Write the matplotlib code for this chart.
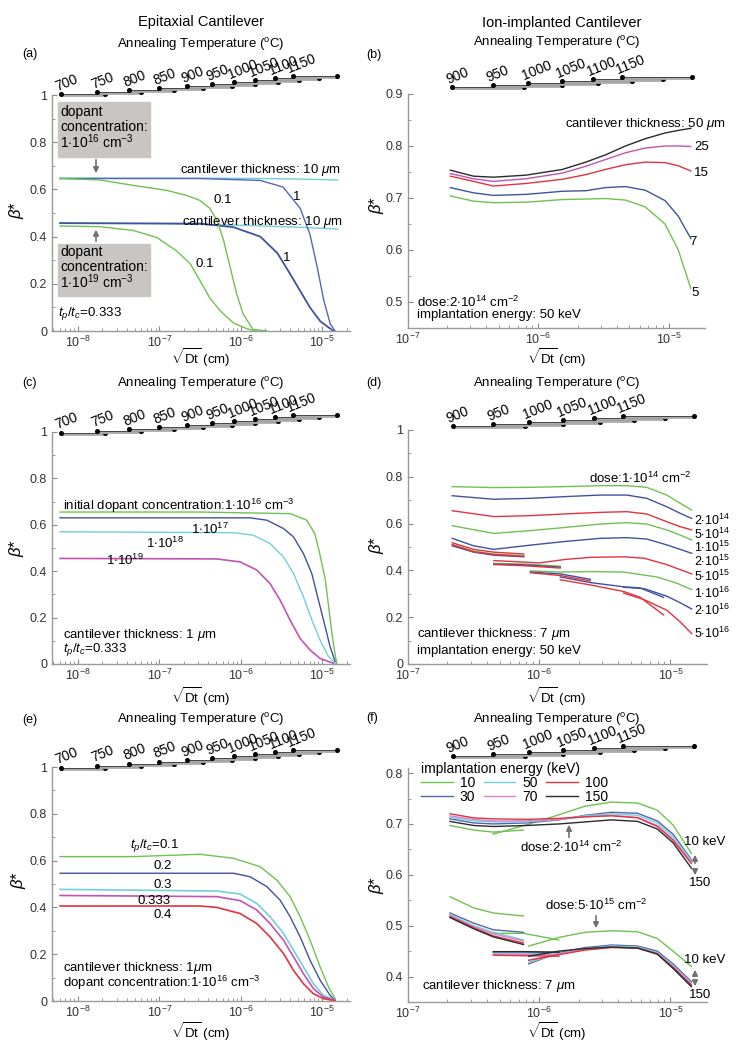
import numpy as np
import matplotlib
matplotlib.use('Agg')
import matplotlib.pyplot as plt
from matplotlib.ticker import LogLocator, MultipleLocator, FuncFormatter, NullFormatter
from matplotlib.transforms import blended_transform_factory
from matplotlib.patches import Rectangle, FancyArrowPatch

plt.rcParams['font.family'] = ['Liberation Sans', 'DejaVu Sans']
plt.rcParams['mathtext.fontset'] = 'custom'
plt.rcParams['mathtext.rm'] = 'Liberation Sans'
plt.rcParams['mathtext.it'] = 'Liberation Sans:italic'
plt.rcParams['mathtext.bf'] = 'Liberation Sans:bold'

W, H = 744, 1050

# annealing temperatures and the sqrt(Dt) range (log10 cm) each one covers
TEMPS = [700, 750, 800, 850, 900, 950, 1000, 1050, 1100, 1150]
TEMP_LOG_START = [-8.21, -7.77, -7.37, -7.00, -6.66, -6.35, -6.08, -5.82, -5.58, -5.36]
TEMP_LOG_END = [-7.67, -7.23, -6.82, -6.46, -6.11, -5.82, -5.54, -5.28, -5.04, -4.82]

# ---- (a) epitaxial, t_p/t_c = 0.333
A_FLAT_X = [-8.22, -7.0, -6.0, -5.3, -4.81]
A_16_T10 = [0.648, 0.648, 0.647, 0.644, 0.640]
A_19_T10 = [0.458, 0.455, 0.448, 0.440, 0.432]
A_16_T1_X = [-8.22, -6.5, -5.76, -5.48, -5.27, -5.15, -5.06, -4.98, -4.90, -4.84]
A_16_T1 = [0.646, 0.646, 0.638, 0.61, 0.52, 0.41, 0.27, 0.13, 0.03, 0.0]
A_16_T01_X = [-8.22, -7.73, -7.32, -6.91, -6.66, -6.50, -6.38, -6.29, -6.21, -6.13, -6.05, -5.97, -5.85, -5.68]
A_16_T01 = [0.646, 0.640, 0.617, 0.596, 0.574, 0.553, 0.52, 0.468, 0.383, 0.27, 0.157, 0.072, 0.007, 0.0]
A_19_T1_X = [-8.22, -6.5, -6.09, -5.76, -5.55, -5.39, -5.27, -5.15, -5.02, -4.86]
A_19_T1 = [0.457, 0.455, 0.44, 0.40, 0.33, 0.24, 0.17, 0.10, 0.04, 0.0]
A_19_T01_X = [-8.22, -7.73, -7.32, -7.03, -6.79, -6.62, -6.50, -6.38, -6.25, -6.09, -5.92, -5.80]
A_19_T01 = [0.445, 0.442, 0.426, 0.396, 0.34, 0.285, 0.213, 0.14, 0.085, 0.034, 0.009, 0.0]

# ---- (b) ion-implanted, dose 2e14, 50 keV, thickness 5..50 um
B_X = [-6.675, -6.498, -6.346, -6.093, -5.814, -5.636, -5.484, -5.332, -5.18, -5.028, -4.926, -4.83]
B_T50 = [0.7535, 0.742, 0.740, 0.744, 0.755, 0.769, 0.783, 0.800, 0.814, 0.825, 0.830, 0.834]
B_T25 = [0.747, 0.737, 0.732, 0.737, 0.748, 0.761, 0.774, 0.787, 0.796, 0.800, 0.800, 0.799]
B_T15 = [0.742, 0.732, 0.723, 0.728, 0.736, 0.745, 0.755, 0.764, 0.769, 0.768, 0.762, 0.752]
B_T7 = [0.720, 0.710, 0.705, 0.707, 0.713, 0.714, 0.720, 0.722, 0.715, 0.695, 0.665, 0.622]
B_T5 = [0.704, 0.694, 0.691, 0.692, 0.697, 0.698, 0.699, 0.696, 0.683, 0.650, 0.600, 0.526]

# ---- (c) epitaxial, thickness 1 um, initial dopant concentration
C_16_X = [-8.22, -6.5, -5.39, -5.19, -5.09, -5.03, -4.96, -4.92, -4.88, -4.84, -4.82]
C_16 = [0.655, 0.655, 0.648, 0.62, 0.562, 0.476, 0.362, 0.247, 0.132, 0.039, 0.003]
C_17_X = [-8.22, -5.885, -5.68, -5.475, -5.352, -5.23, -5.127, -5.045, -4.963, -4.902, -4.84]
C_17 = [0.63, 0.63, 0.62, 0.584, 0.548, 0.476, 0.39, 0.275, 0.161, 0.075, 0.01]
C_18_X = [-8.22, -6.09, -5.844, -5.64, -5.475, -5.352, -5.23, -5.127, -5.025, -4.922, -4.84]
C_18 = [0.57, 0.566, 0.555, 0.519, 0.462, 0.39, 0.29, 0.19, 0.103, 0.032, 0.003]
C_19_X = [-8.22, -6.295, -6.008, -5.803, -5.64, -5.516, -5.393, -5.27, -5.148, -5.025, -4.861]
C_19 = [0.455, 0.453, 0.44, 0.405, 0.347, 0.275, 0.189, 0.11, 0.06, 0.024, 0.003]

# ---- (d) ion-implanted, thickness 7 um, 50 keV, dose 1e14..5e16
D_UP_X = [-6.663, -6.346, -6.067, -5.814, -5.535, -5.332, -5.18, -5.028, -4.926, -4.838]
D_1E14 = [0.758, 0.754, 0.755, 0.758, 0.762, 0.762, 0.755, 0.722, 0.687, 0.658]
D_2E14 = [0.719, 0.704, 0.708, 0.715, 0.722, 0.722, 0.708, 0.672, 0.644, 0.622]
D_5E14 = [0.655, 0.630, 0.634, 0.641, 0.648, 0.651, 0.641, 0.608, 0.587, 0.573]
D_1E15 = [0.591, 0.558, 0.570, 0.583, 0.598, 0.604, 0.598, 0.573, 0.551, 0.530]
D_2E15_X = [-6.663, -6.5, -6.346, -6.067, -5.814, -5.535, -5.332, -5.18, -5.028, -4.926, -4.838]
D_2E15 = [0.537, 0.505, 0.490, 0.508, 0.523, 0.537, 0.540, 0.534, 0.509, 0.490, 0.473]
D_SEG1_X = [-6.663, -6.5, -6.346, -6.118]
D_SEG2_X = [-6.346, -6.118, -5.839]
D_SEG3_X = [-6.067, -5.839, -5.611]
D_5E15_A = [0.518, 0.490, 0.478, 0.470]
D_5E15_B_X = [-6.346, -6.0, -5.8, -5.6, -5.35, -5.2, -5.03, -4.838]
D_5E15_B = [0.442, 0.432, 0.447, 0.456, 0.458, 0.452, 0.425, 0.385]
D_1E16_A = [0.510, 0.483, 0.470, 0.463]
D_1E16_B = [0.430, 0.427, 0.418]
D_1E16_C_X = [-6.067, -5.839, -5.611, -5.357, -5.104, -4.95, -4.838]
D_1E16_C = [0.398, 0.393, 0.395, 0.393, 0.372, 0.345, 0.318]
D_2E16_A = [0.505, 0.478, 0.465, 0.458]
D_2E16_B = [0.427, 0.424, 0.414]
D_2E16_C = [0.393, 0.385, 0.362]
D_SEG4_X = [-5.839, -5.611, -5.357, -5.231, -5.053]
D_SEG5_X = [-5.357, -5.2, -5.028, -4.926, -4.838]
D_2E16_D = [0.372, 0.348, 0.330, 0.325, 0.285]
D_2E16_E = [0.328, 0.322, 0.290, 0.262, 0.235]
D_5E16_A = [0.510, 0.480, 0.468, 0.460]
D_5E16_B = [0.425, 0.420, 0.410]
D_5E16_C = [0.390, 0.378, 0.355]
D_5E16_D = [0.360, 0.338, 0.310, 0.285, 0.210]
D_5E16_E = [0.303, 0.275, 0.230, 0.180, 0.130]
D_DOSE_LABELS = ['2$\\cdot$10$^{14}$', '5$\\cdot$10$^{14}$', '1$\\cdot$10$^{15}$',
                 '2$\\cdot$10$^{15}$', '5$\\cdot$10$^{15}$', '1$\\cdot$10$^{16}$',
                 '2$\\cdot$10$^{16}$', '5$\\cdot$10$^{16}$']

# ---- (e) epitaxial, thickness 1 um, 1e16, t_p/t_c
E_01_X = [-8.22, -7.32, -6.5, -6.09, -5.762, -5.557, -5.393, -5.27, -5.148, -5.025, -4.922, -4.84]
E_01 = [0.617, 0.617, 0.627, 0.61, 0.574, 0.517, 0.446, 0.36, 0.26, 0.146, 0.06, 0.01]
E_02_X = [-8.22, -6.09, -5.885, -5.68, -5.516, -5.393, -5.27, -5.148, -5.025, -4.902, -4.84]
E_02 = [0.546, 0.546, 0.531, 0.489, 0.431, 0.36, 0.274, 0.174, 0.089, 0.024, 0.003]
E_03_X = [-8.22, -6.295, -6.008, -5.803, -5.64, -5.475, -5.352, -5.23, -5.107, -4.984, -4.84]
E_03 = [0.477, 0.470, 0.457, 0.417, 0.36, 0.289, 0.217, 0.146, 0.074, 0.024, 0.003]
E_0333 = [0.451, 0.446, 0.429, 0.389, 0.331, 0.26, 0.189, 0.117, 0.053, 0.017, 0.003]
E_04_X = [-8.22, -6.5, -6.295, -6.008, -5.803, -5.64, -5.475, -5.352, -5.23, -5.107, -4.984, -4.84]
E_04 = [0.406, 0.406, 0.400, 0.374, 0.331, 0.274, 0.203, 0.131, 0.074, 0.031, 0.01, 0.001]

# ---- (f) ion-implanted, thickness 7 um, energies 10..150 keV
F_ENERGIES = ['10', '30', '50', '70', '100', '150']
F_X = [-6.68, -6.50, -6.35, -6.10, -5.85, -5.65, -5.45, -5.25, -5.10, -4.98, -4.84]
F_HI_30 = [0.710, 0.702, 0.700, 0.702, 0.708, 0.717, 0.723, 0.721, 0.706, 0.680, 0.630]
F_HI_50 = [0.713, 0.706, 0.704, 0.704, 0.709, 0.716, 0.720, 0.717, 0.702, 0.675, 0.628]
F_HI_70 = [0.716, 0.709, 0.706, 0.706, 0.709, 0.714, 0.717, 0.713, 0.697, 0.670, 0.625]
F_HI_100 = [0.720, 0.712, 0.710, 0.709, 0.711, 0.714, 0.716, 0.712, 0.695, 0.668, 0.622]
F_HI_150 = [0.705, 0.697, 0.695, 0.697, 0.700, 0.704, 0.708, 0.705, 0.690, 0.663, 0.613]
F_HI_10_A_X = [-6.68, -6.50, -6.35, -6.12]
F_HI_10_A = [0.697, 0.688, 0.684, 0.688]
F_HI_10_B_X = [-6.35, -6.10, -5.85, -5.65, -5.45, -5.25, -5.10, -4.98, -4.84]
F_HI_10_B = [0.680, 0.698, 0.718, 0.735, 0.743, 0.741, 0.727, 0.698, 0.642]
F_LO_A_X = [-6.68, -6.50, -6.35, -6.12]
F_LO_B_X = [-6.35, -6.12, -5.85]
F_LO_C_X = [-6.08, -5.85, -5.65, -5.45, -5.25, -5.10, -4.98, -4.84]
F_LO_10 = ([0.557, 0.535, 0.525, 0.519], [0.485, 0.485, 0.472],
           [0.460, 0.477, 0.487, 0.490, 0.488, 0.475, 0.450, 0.420])
F_LO_30 = ([0.525, 0.505, 0.492, 0.487], [0.448, 0.448, 0.447],
           [0.425, 0.447, 0.457, 0.462, 0.460, 0.450, 0.425, 0.390])
F_LO_50 = ([0.522, 0.500, 0.487, 0.472], [0.446, 0.446, 0.445],
           [0.428, 0.445, 0.455, 0.460, 0.458, 0.447, 0.422, 0.387])
F_LO_70 = ([0.520, 0.498, 0.484, 0.470], [0.444, 0.444, 0.443],
           [0.432, 0.445, 0.454, 0.458, 0.456, 0.445, 0.420, 0.385])
F_LO_100 = ([0.518, 0.496, 0.480, 0.466], [0.442, 0.441, 0.440],
            [0.432, 0.443, 0.452, 0.457, 0.456, 0.445, 0.418, 0.383])
F_LO_150 = ([0.516, 0.494, 0.478, 0.463], [0.449, 0.449, 0.448],
            [0.440, 0.450, 0.455, 0.458, 0.456, 0.444, 0.416, 0.380])

GREEN = '#70c250'
BLUE = '#40519f'
CYAN = '#72d0d8'
MAGENTA = '#c253b3'
RED = '#e2333f'
BLACK = '#2a2a2a'
F_COLORS = [GREEN, '#5566aa', CYAN, '#d383d3', RED, BLACK]

fig = plt.figure(figsize=(W / 100, H / 100), dpi=100)


def add_ax(l, t, r, b):
    return fig.add_axes([l / W, 1 - b / H, (r - l) / W, (b - t) / H])


def T(px, py, s, size=9.5, **kw):
    kw.setdefault('ha', 'left')
    kw.setdefault('va', 'center')
    fig.text(px / W, 1 - py / H, s, fontsize=size, zorder=5, **kw)


def arrow(x0, y0, x1, y1, style='-|>'):
    fig.add_artist(FancyArrowPatch(
        (x0 / W, 1 - y0 / H), (x1 / W, 1 - y1 / H), transform=fig.transFigure,
        arrowstyle=style, mutation_scale=8, color='#707070', lw=1.2, zorder=4))


def style(ax, xlim, ylim, major, minor):
    ax.set_xscale('log')
    ax.set_xlim(*xlim)
    ax.set_ylim(*ylim)
    for s in ['top', 'right']:
        ax.spines[s].set_visible(False)
    for s in ['left', 'bottom']:
        ax.spines[s].set_color('#9a9a9a')
        ax.spines[s].set_linewidth(1.0)
    ax.xaxis.set_major_locator(LogLocator(base=10))
    ax.xaxis.set_minor_locator(LogLocator(base=10, subs=np.arange(2, 10)))
    ax.xaxis.set_minor_formatter(NullFormatter())
    ax.yaxis.set_major_locator(MultipleLocator(major))
    ax.yaxis.set_minor_locator(MultipleLocator(minor))
    ax.yaxis.set_major_formatter(FuncFormatter(lambda v, _: f'{v:g}'))
    ax.tick_params(which='both', direction='in', color='#8a8a8a', labelsize=9,
                   labelcolor='#333333')
    ax.tick_params(which='major', length=3.5)
    ax.tick_params(which='minor', length=2)
    ax.tick_params(axis='x', pad=3)
    ax.patch.set_alpha(0)


def curve(ax, lx, ys, color, lw=1.0, **kw):
    return ax.plot(10 ** np.asarray(lx), ys, color=color, lw=lw, **kw)[0]


def temp_axis(ax, first, base, step=0.0085):
    trans = blended_transform_factory(ax.transData, ax.transAxes)
    for k, i in enumerate(range(first, len(TEMPS))):
        h = base + step * k
        xs = [10 ** TEMP_LOG_START[i], 10 ** TEMP_LOG_END[i]]
        ax.plot(xs, [h - 0.004, h - 0.004], transform=trans, color='#ababab', lw=2.0,
                clip_on=False, solid_capstyle='butt')
        ax.plot(xs, [h, h], transform=trans, color='#333333', lw=0.6, marker='o',
                ms=2.6, mfc='black', mec='black', clip_on=False)
        ax.annotate(str(TEMPS[i]), xy=(xs[0], h), xycoords=trans, xytext=(-2, 0.5),
                    textcoords='offset points', rotation=22, rotation_mode='anchor',
                    ha='left', va='bottom', fontsize=10)


XL_LEFT = (4.8e-9, 2.2e-5)
XL_RIGHT = (1e-7, 1.9e-5)
SQRT = r'$\sqrt{\mathrm{Dt}}$ (cm)'
ANN = r'Annealing Temperature ($^{\mathrm{o}}$C)'

# gray info boxes in (a), drawn first so that the axes lie above them
for top, bot in [(102, 157), (244, 296)]:
    fig.add_artist(Rectangle((58 / W, 1 - bot / H), 92 / W, (bot - top) / H,
                             transform=fig.transFigure, color='#c9c5c2', zorder=0))

# ---------------- (a)
ax = add_ax(52, 95, 350, 331)
curve(ax, A_FLAT_X, A_16_T10, CYAN)
curve(ax, A_FLAT_X, A_19_T10, CYAN)
curve(ax, A_16_T1_X, A_16_T1, '#5566b8')
curve(ax, A_19_T1_X, A_19_T1, BLUE, lw=1.3)
curve(ax, A_16_T01_X, A_16_T01, GREEN)
curve(ax, A_19_T01_X, A_19_T01, GREEN)
style(ax, XL_LEFT, (0, 1), 0.2, 0.1)
temp_axis(ax, 0, 1.004)

T(60, 112, 'dopant', 10)
T(60, 127, 'concentration:', 10)
T(60, 142, r'1$\cdot$10$^{16}$ cm$^{-3}$', 10)
T(60, 252, 'dopant', 10)
T(60, 267, 'concentration:', 10)
T(60, 282, r'1$\cdot$10$^{19}$ cm$^{-3}$', 10)
arrow(96, 157, 96, 176)
arrow(96, 244, 96, 227)
T(180, 170, r'cantilever thickness: 10 $\mu$m')
T(182, 222, r'cantilever thickness: 10 $\mu$m')
T(213, 200, '0.1')
T(293, 197, '1')
T(195, 264, '0.1')
T(283, 258, '1')
T(58, 314, r'$t_p/t_c$=0.333')

# ---------------- (b)
ax = add_ax(408, 94, 705, 328)
for ys, c in [(B_T5, GREEN), (B_T7, BLUE), (B_T15, RED), (B_T25, MAGENTA), (B_T50, BLACK)]:
    curve(ax, B_X, ys, c)
style(ax, XL_RIGHT, (0.45, 0.9), 0.1, 0.05)
temp_axis(ax, 4, 1.03)
T(565, 124, r'cantilever thickness: 50 $\mu$m')
T(694, 147, '25')
T(694, 173, '15')
T(689, 242, '7')
T(691, 293, '5')
T(417, 302, r'dose:2$\cdot$10$^{14}$ cm$^{-2}$')
T(417, 315, 'implantation energy: 50 keV')

# ---------------- (c)
ax = add_ax(52, 432, 350, 664)
curve(ax, C_16_X, C_16, GREEN)
curve(ax, C_17_X, C_17, BLUE)
curve(ax, C_18_X, C_18, CYAN)
curve(ax, C_19_X, C_19, MAGENTA, lw=1.2)
style(ax, XL_LEFT, (0, 1), 0.2, 0.1)
temp_axis(ax, 0, 0.996)
T(63, 506, r'initial dopant concentration:1$\cdot$10$^{16}$ cm$^{-3}$')
T(191, 529, r'1$\cdot$10$^{17}$')
T(146, 543, r'1$\cdot$10$^{18}$')
T(106, 560, r'1$\cdot$10$^{19}$')
T(63, 635, r'cantilever thickness: 1 $\mu$m')
T(63, 650, r'$t_p/t_c$=0.333')

# ---------------- (d)
ax = add_ax(408, 430, 707, 664)
curve(ax, D_UP_X, D_1E14, GREEN)
curve(ax, D_UP_X, D_2E14, BLUE)
curve(ax, D_UP_X, D_5E14, RED)
curve(ax, D_UP_X, D_1E15, GREEN)
curve(ax, D_2E15_X, D_2E15, BLUE)
curve(ax, D_SEG1_X, D_5E15_A, RED)
curve(ax, D_5E15_B_X, D_5E15_B, RED)
curve(ax, D_SEG1_X, D_1E16_A, GREEN)
curve(ax, D_SEG2_X, D_1E16_B, GREEN)
curve(ax, D_1E16_C_X, D_1E16_C, GREEN)
for segs, c in [((D_2E16_A, D_2E16_B, D_2E16_C, D_2E16_D, D_2E16_E), BLUE),
                ((D_5E16_A, D_5E16_B, D_5E16_C, D_5E16_D, D_5E16_E), RED)]:
    for lx, ys in zip((D_SEG1_X, D_SEG2_X, D_SEG3_X, D_SEG4_X, D_SEG5_X), segs):
        curve(ax, lx, ys, c)
style(ax, XL_RIGHT, (0, 1), 0.2, 0.1)
temp_axis(ax, 4, 1.017)
T(589, 478, r'dose:1$\cdot$10$^{14}$ cm$^{-2}$')
for py, s in zip([520, 534, 547, 561, 576, 593, 610, 633], D_DOSE_LABELS):
    T(694, py, s, 9)
T(417, 634, r'cantilever thickness: 7 $\mu$m')
T(417, 651, 'implantation energy: 50 keV')

# ---------------- (e)
ax = add_ax(52, 767, 350, 1001)
curve(ax, E_01_X, E_01, GREEN)
curve(ax, E_02_X, E_02, BLUE)
curve(ax, E_03_X, E_03, CYAN, lw=1.2)
curve(ax, E_03_X, E_0333, MAGENTA, lw=1.2)
curve(ax, E_04_X, E_04, RED, lw=1.2)
style(ax, XL_LEFT, (0, 1), 0.2, 0.1)
temp_axis(ax, 0, 0.996)
T(130, 846, r'$t_p/t_c$=0.1')
T(153, 866, '0.2')
T(153, 885, '0.3')
T(137, 901, '0.333')
T(153, 915, '0.4')
T(63, 968, r'cantilever thickness: 1$\mu$m')
T(63, 983, r'dopant concentration:1$\cdot$10$^{16}$ cm$^{-3}$')

# ---------------- (f)
ax = add_ax(408, 768, 707, 1002)
handles = []
hi = [None, F_HI_30, F_HI_50, F_HI_70, F_HI_100, F_HI_150]
lo = [F_LO_10, F_LO_30, F_LO_50, F_LO_70, F_LO_100, F_LO_150]
for k, (lab, c) in enumerate(zip(F_ENERGIES, F_COLORS)):
    if hi[k] is None:
        h = curve(ax, F_HI_10_A_X, F_HI_10_A, c, label=lab)
        curve(ax, F_HI_10_B_X, F_HI_10_B, c)
    else:
        h = curve(ax, F_X, hi[k], c, label=lab)
    for lx, ys in zip((F_LO_A_X, F_LO_B_X, F_LO_C_X), lo[k]):
        curve(ax, lx, ys, c)
    handles.append(h)
style(ax, XL_RIGHT, (0.35, 0.81), 0.1, 0.05)
temp_axis(ax, 4, 1.05)
leg = ax.legend(handles=handles, ncol=3, frameon=False, fontsize=10,
                title='implantation energy (keV)', title_fontsize=10, alignment='left',
                loc='upper left', bbox_to_anchor=(0.015, 1.06), handlelength=2.3,
                handletextpad=0.5, columnspacing=0.6, labelspacing=0.0, borderpad=0.1)
T(520, 847, r'dose:2$\cdot$10$^{14}$ cm$^{-2}$')
arrow(569, 840, 569, 822)
T(545, 905, r'dose:5$\cdot$10$^{15}$ cm$^{-2}$')
arrow(596, 913, 596, 931)
T(684, 842, '10 keV')
arrow(695, 866, 695, 852)
arrow(695, 866, 695, 878)
T(689, 883, '150')
T(684, 960, '10 keV')
arrow(695, 978, 695, 967)
arrow(695, 978, 695, 989)
T(689, 995, '150')
T(422, 986, r'cantilever thickness: 7 $\mu$m')

# ---------------- shared texts
T(201, 22, 'Epitaxial Cantilever', 10.5, ha='center')
T(562, 23, 'Ion-implanted Cantilever', 10.5, ha='center')
for cx, py in [(201, 45), (557, 43), (201, 383), (557, 383), (201, 720), (557, 719)]:
    T(cx, py, ANN, 9.5, ha='center')
for cx, py in [(201, 358), (557, 358), (201, 697), (557, 697), (201, 1032), (557, 1032)]:
    T(cx, py, SQRT, 9.5, ha='center')
for px, py, s in [(22, 54, '(a)'), (366, 55, '(b)'), (22, 383, '(c)'), (366, 383, '(d)'),
                  (22, 720, '(e)'), (366, 718, '(f)')]:
    T(px, py, s, 9)
for px, py in [(17, 210), (377, 205), (17, 548), (377, 545), (19, 880), (377, 885)]:
    T(px, py, r'$\beta$*', 12, ha='center', rotation=90)

fig.savefig('out.png', dpi=100)
